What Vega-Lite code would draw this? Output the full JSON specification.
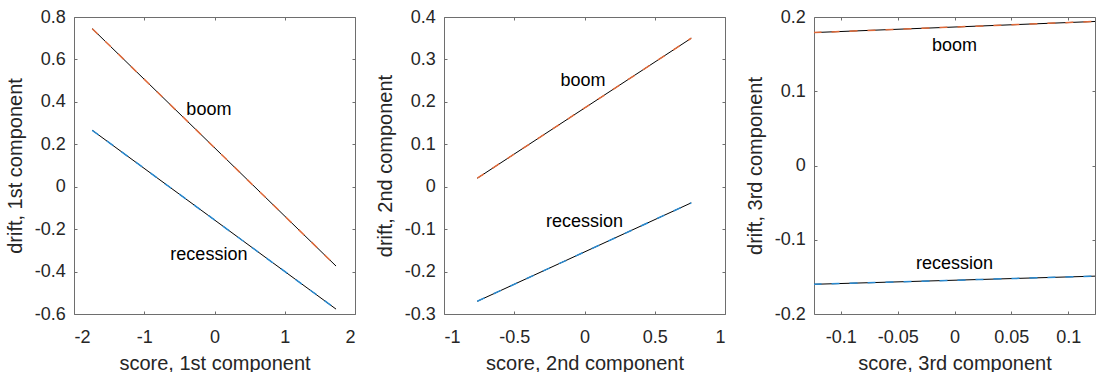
{
  "$schema": "https://vega.github.io/schema/vega-lite/v6.json",
  "autosize": {"type": "pad"},
  "padding": {"left": 4, "top": 7, "right": 0, "bottom": 0},
  "background": "white",
  "spacing": 89,
  "bounds": "flush",
  "datasets": {
    "lines": [
      {"panel": 1, "series": "boom", "x": -1.74, "y": 0.745},
      {"panel": 1, "series": "boom", "x": 1.73, "y": -0.374},
      {"panel": 1, "series": "recession", "x": -1.74, "y": 0.266},
      {"panel": 1, "series": "recession", "x": 1.73, "y": -0.577},
      {"panel": 2, "series": "boom", "x": -0.763, "y": 0.02},
      {"panel": 2, "series": "boom", "x": 0.76, "y": 0.35},
      {"panel": 2, "series": "recession", "x": -0.763, "y": -0.27},
      {"panel": 2, "series": "recession", "x": 0.76, "y": -0.038},
      {"panel": 3, "series": "boom", "x": -0.124, "y": 0.179},
      {"panel": 3, "series": "boom", "x": 0.124, "y": 0.194},
      {"panel": 3, "series": "recession", "x": -0.124, "y": -0.16},
      {"panel": 3, "series": "recession", "x": 0.124, "y": -0.149}
    ],
    "labels": [
      {"panel": 1, "label": "boom", "x": -0.08, "y": 0.363},
      {"panel": 1, "label": "recession", "x": -0.08, "y": -0.32},
      {"panel": 2, "label": "boom", "x": -0.01, "y": 0.248},
      {"panel": 2, "label": "recession", "x": 0.0, "y": -0.082},
      {"panel": 3, "label": "boom", "x": 0.0, "y": 0.161},
      {"panel": 3, "label": "recession", "x": 0.0, "y": -0.1325}
    ]
  },
  "hconcat": [
    {
      "width": 281, "height": 297,
      "layer": [
        {"data": {"name": "lines"}, "transform": [{"filter": "datum.panel == 1"}],
         "mark": {"type": "line", "color": "black", "strokeWidth": 1},
         "encoding": {
           "x": {"field": "x", "type": "quantitative", "scale": {"domain": [-2, 2], "nice": false, "zero": false},
                 "axis": {"values": [-2, -1, 0, 1, 2], "labelExpr": "'' + datum.value", "title": "score, 1st component"}},
           "y": {"field": "y", "type": "quantitative", "scale": {"domain": [-0.6, 0.8], "nice": false, "zero": false},
                 "axis": {"values": [-0.6, -0.4, -0.2, 0, 0.2, 0.4, 0.6, 0.8], "labelExpr": "'' + datum.value", "title": "drift, 1st component"}},
           "detail": {"field": "series"}}},
        {"data": {"name": "lines"}, "transform": [{"filter": "datum.panel == 1"}],
         "mark": {"type": "line", "strokeWidth": 1.5, "strokeDash": [8, 10]},
         "encoding": {
           "x": {"field": "x", "type": "quantitative", "axis": null},
           "y": {"field": "y", "type": "quantitative", "axis": null},
           "color": {"field": "series", "type": "nominal", "scale": {"domain": ["boom", "recession"], "range": ["#E06A3A", "#2A8AD0"]}, "legend": null}}},
        {"data": {"name": "labels"}, "transform": [{"filter": "datum.panel == 1"}],
         "mark": {"type": "text", "fontSize": 18, "font": "Liberation Sans", "color": "black"},
         "encoding": {
           "x": {"field": "x", "type": "quantitative", "axis": null},
           "y": {"field": "y", "type": "quantitative", "axis": null},
           "text": {"field": "label"}}},
        {"data": {"name": "lines"}, "transform": [{"filter": "datum.panel == 1"}],
         "mark": {"type": "point", "opacity": 0},
         "encoding": {
           "x": {"field": "x", "type": "quantitative", "axis": {"orient": "top", "labels": false, "title": null, "values": [-2, -1, 0, 1, 2]}},
           "y": {"field": "y", "type": "quantitative", "axis": {"orient": "right", "labels": false, "title": null, "values": [-0.6, -0.4, -0.2, 0, 0.2, 0.4, 0.6, 0.8]}}}}
      ],
      "resolve": {"axis": {"x": "independent", "y": "independent"}}
    },
    {
      "width": 281, "height": 297,
      "layer": [
        {"data": {"name": "lines"}, "transform": [{"filter": "datum.panel == 2"}],
         "mark": {"type": "line", "color": "black", "strokeWidth": 1},
         "encoding": {
           "x": {"field": "x", "type": "quantitative", "scale": {"domain": [-1, 1], "nice": false, "zero": false},
                 "axis": {"values": [-1, -0.5, 0, 0.5, 1], "labelExpr": "'' + datum.value", "title": "score, 2nd component"}},
           "y": {"field": "y", "type": "quantitative", "scale": {"domain": [-0.3, 0.4], "nice": false, "zero": false},
                 "axis": {"values": [-0.3, -0.2, -0.1, 0, 0.1, 0.2, 0.3, 0.4], "labelExpr": "'' + datum.value", "title": "drift, 2nd component"}},
           "detail": {"field": "series"}}},
        {"data": {"name": "lines"}, "transform": [{"filter": "datum.panel == 2"}],
         "mark": {"type": "line", "strokeWidth": 1.5, "strokeDash": [8, 10]},
         "encoding": {
           "x": {"field": "x", "type": "quantitative", "axis": null},
           "y": {"field": "y", "type": "quantitative", "axis": null},
           "color": {"field": "series", "type": "nominal", "scale": {"domain": ["boom", "recession"], "range": ["#E06A3A", "#2A8AD0"]}, "legend": null}}},
        {"data": {"name": "labels"}, "transform": [{"filter": "datum.panel == 2"}],
         "mark": {"type": "text", "fontSize": 18, "font": "Liberation Sans", "color": "black"},
         "encoding": {
           "x": {"field": "x", "type": "quantitative", "axis": null},
           "y": {"field": "y", "type": "quantitative", "axis": null},
           "text": {"field": "label"}}},
        {"data": {"name": "lines"}, "transform": [{"filter": "datum.panel == 2"}],
         "mark": {"type": "point", "opacity": 0},
         "encoding": {
           "x": {"field": "x", "type": "quantitative", "axis": {"orient": "top", "labels": false, "title": null, "values": [-1, -0.5, 0, 0.5, 1]}},
           "y": {"field": "y", "type": "quantitative", "axis": {"orient": "right", "labels": false, "title": null, "values": [-0.3, -0.2, -0.1, 0, 0.1, 0.2, 0.3, 0.4]}}}}
      ],
      "resolve": {"axis": {"x": "independent", "y": "independent"}}
    },
    {
      "width": 281, "height": 297,
      "layer": [
        {"data": {"name": "lines"}, "transform": [{"filter": "datum.panel == 3"}],
         "mark": {"type": "line", "color": "black", "strokeWidth": 1, "clip": true},
         "encoding": {
           "x": {"field": "x", "type": "quantitative", "scale": {"domain": [-0.1236, 0.1236], "nice": false, "zero": false},
                 "axis": {"values": [-0.1, -0.05, 0, 0.05, 0.1], "labelExpr": "'' + datum.value", "title": "score, 3rd component"}},
           "y": {"field": "y", "type": "quantitative", "scale": {"domain": [-0.2, 0.2], "nice": false, "zero": false},
                 "axis": {"values": [-0.2, -0.1, 0, 0.1, 0.2], "labelExpr": "'' + datum.value", "title": "drift, 3rd component"}},
           "detail": {"field": "series"}}},
        {"data": {"name": "lines"}, "transform": [{"filter": "datum.panel == 3"}],
         "mark": {"type": "line", "strokeWidth": 1.5, "strokeDash": [8, 10], "clip": true},
         "encoding": {
           "x": {"field": "x", "type": "quantitative", "axis": null},
           "y": {"field": "y", "type": "quantitative", "axis": null},
           "color": {"field": "series", "type": "nominal", "scale": {"domain": ["boom", "recession"], "range": ["#E06A3A", "#2A8AD0"]}, "legend": null}}},
        {"data": {"name": "labels"}, "transform": [{"filter": "datum.panel == 3"}],
         "mark": {"type": "text", "fontSize": 18, "font": "Liberation Sans", "color": "black"},
         "encoding": {
           "x": {"field": "x", "type": "quantitative", "axis": null},
           "y": {"field": "y", "type": "quantitative", "axis": null},
           "text": {"field": "label"}}},
        {"data": {"name": "lines"}, "transform": [{"filter": "datum.panel == 3"}],
         "mark": {"type": "point", "opacity": 0},
         "encoding": {
           "x": {"field": "x", "type": "quantitative", "axis": {"orient": "top", "labels": false, "title": null, "values": [-0.1, -0.05, 0, 0.05, 0.1]}},
           "y": {"field": "y", "type": "quantitative", "axis": {"orient": "right", "labels": false, "title": null, "values": [-0.2, -0.1, 0, 0.1, 0.2]}}}}
      ],
      "resolve": {"axis": {"x": "independent", "y": "independent"}}
    }
  ],
  "config": {
    "view": {"stroke": "#6e6e6e", "strokeWidth": 1},
    "axis": {
      "grid": false, "domain": false, "tickSize": -3, "tickColor": "#6e6e6e",
      "labelFont": "Liberation Sans", "labelFontSize": 18, "labelColor": "#262626",
      "titleFont": "Liberation Sans", "titleFontSize": 20, "titleFontWeight": "normal", "titleColor": "#262626"
    },
    "axisX": {"labelPadding": 17, "titlePadding": 7},
    "axisY": {"labelPadding": 11.7, "titlePadding": 9}
  }
}
